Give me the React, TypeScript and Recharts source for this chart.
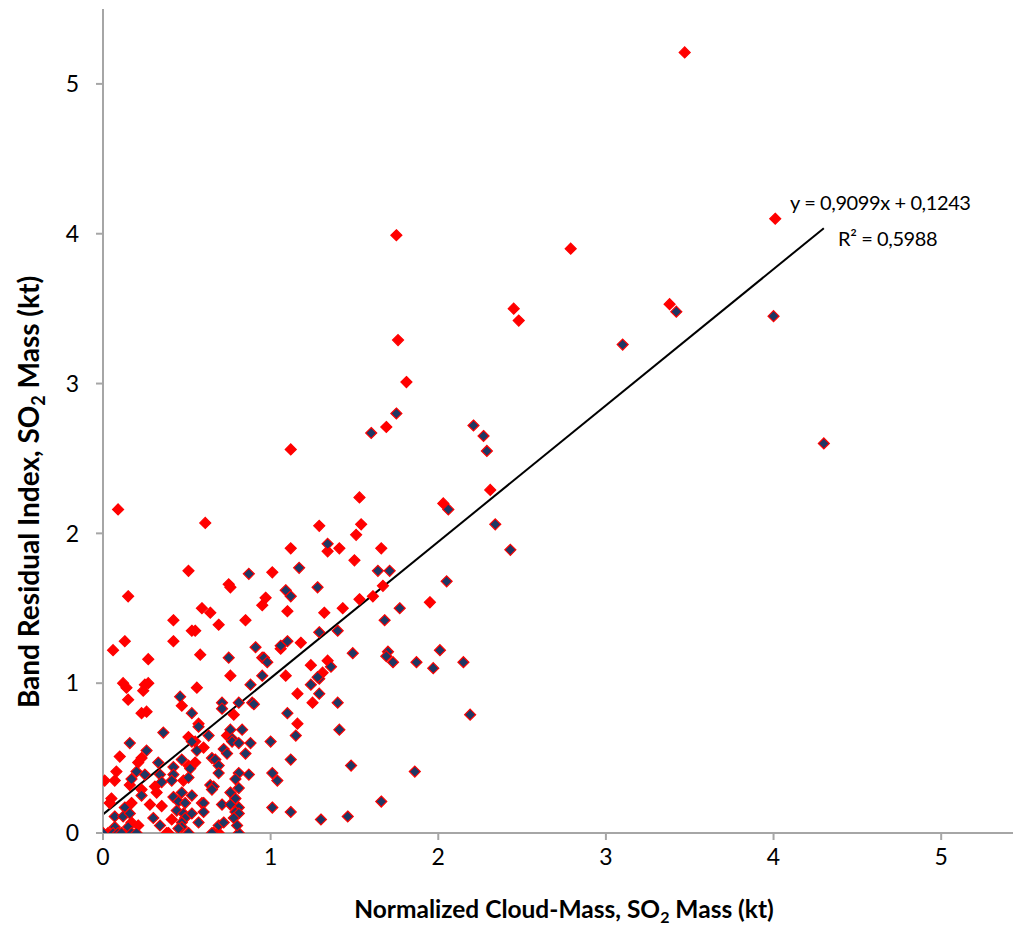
import React from "react";
import { ScatterChart, Scatter, XAxis, YAxis, ReferenceLine } from "recharts";

// [x, y] pairs (kt)
const bandResidualOnly: [number, number][] = [
  [3.47, 5.21], [4.01, 4.1], [2.79, 3.9], [3.38, 3.53], [1.75, 3.99], [2.45, 3.5],
  [2.48, 3.42], [1.76, 3.29], [1.81, 3.01], [1.69, 2.71], [1.12, 2.56], [2.31, 2.29],
  [1.53, 2.24], [2.03, 2.2], [1.29, 2.05], [1.54, 2.06], [1.51, 1.99], [1.34, 1.88],
  [1.41, 1.9], [1.66, 1.9], [1.5, 1.82], [1.67, 1.65], [1.61, 1.58], [1.53, 1.56],
  [1.95, 1.54], [1.43, 1.5], [1.32, 1.47], [1.18, 1.27], [1.24, 1.12], [1.34, 1.15],
  [1.31, 1.07], [1.25, 0.87], [1.16, 0.93], [1.16, 0.73], [0.61, 2.07], [1.12, 1.9],
  [1.01, 1.74], [0.75, 1.66], [0.76, 1.64], [0.97, 1.57], [0.95, 1.52], [1.1, 1.48],
  [0.59, 1.5], [0.64, 1.47], [0.69, 1.39], [0.85, 1.42], [0.55, 1.35], [1.06, 1.23],
  [0.58, 1.19], [0.76, 1.05], [1.09, 1.05], [0.56, 0.97], [0.09, 2.16], [0.51, 1.75],
  [0.15, 1.58], [0.42, 1.42], [0.53, 1.35], [0.13, 1.28], [0.06, 1.22], [0.42, 1.28],
  [0.27, 1.16], [0.12, 1.0], [0.14, 0.97], [0.25, 0.99], [0.27, 1.0], [0.24, 0.95],
  [0.15, 0.89], [0.23, 0.8], [0.26, 0.81], [0.47, 0.85], [0.57, 0.73], [0.1, 0.51],
  [0.21, 0.47], [0.23, 0.5], [0.51, 0.45], [0.55, 0.47], [0.08, 0.41], [0.01, 0.35],
  [0.07, 0.35], [0.16, 0.32], [0.31, 0.31], [0.48, 0.35], [0.23, 0.29], [0.32, 0.27],
  [0.05, 0.23], [0.04, 0.2], [0.17, 0.2], [0.28, 0.19], [0.35, 0.18], [0.41, 0.09],
  [0.17, 0.07], [0.38, 0.0], [0.78, 0.79], [0.74, 0.65], [0.55, 0.61], [0.6, 0.57],
  [0.69, 0.0], [0.51, 0.64], [0.21, 0.05], [0.39, 0.0], [0.03, 0.0], [0.14, 0.0],
];

const bothMethods: [number, number][] = [
  [3.42, 3.48], [3.1, 3.26], [4.0, 3.45], [4.3, 2.6], [1.75, 2.8], [1.6, 2.67],
  [2.21, 2.72], [2.27, 2.65], [2.29, 2.55], [2.06, 2.16], [1.34, 1.93], [2.34, 2.06],
  [2.43, 1.89], [1.64, 1.75], [1.71, 1.75], [1.28, 1.64], [2.05, 1.68], [1.77, 1.5],
  [1.68, 1.42], [1.29, 1.34], [1.4, 1.35], [1.49, 1.2], [1.7, 1.21], [1.69, 1.18],
  [1.73, 1.14], [1.87, 1.14], [2.01, 1.22], [1.97, 1.1], [2.15, 1.14], [1.36, 1.11],
  [1.29, 1.03], [1.28, 1.04], [1.24, 0.99], [1.29, 0.93], [1.4, 0.87], [1.41, 0.69],
  [1.48, 0.45], [1.86, 0.41], [1.66, 0.21], [1.3, 0.09], [1.46, 0.11], [2.19, 0.79],
  [1.17, 1.77], [1.15, 0.65], [0.87, 1.73], [1.09, 1.62], [1.12, 1.58], [0.91, 1.24],
  [0.95, 1.17], [0.96, 1.17], [0.98, 1.14], [1.06, 1.25], [1.1, 1.28], [0.75, 1.17],
  [0.95, 1.05], [0.88, 0.99], [0.46, 0.91], [0.53, 0.8], [0.36, 0.67], [0.16, 0.6],
  [0.26, 0.55], [0.33, 0.47], [0.47, 0.49], [0.42, 0.44], [0.42, 0.39], [0.2, 0.41],
  [0.25, 0.39], [0.17, 0.36], [0.34, 0.39], [0.35, 0.34], [0.41, 0.35], [0.52, 0.43],
  [0.51, 0.37], [0.23, 0.25], [0.42, 0.24], [0.47, 0.27], [0.53, 0.25], [0.45, 0.21],
  [0.49, 0.2], [0.59, 0.2], [0.07, 0.11], [0.13, 0.17], [0.12, 0.11], [0.16, 0.13],
  [0.3, 0.1], [0.44, 0.15], [0.48, 0.13], [0.49, 0.1], [0.47, 0.07], [0.47, 0.04],
  [0.34, 0.05], [0.07, 0.04], [0.15, 0.04], [0.53, 0.13], [0.51, 0.0], [0.45, 0.03],
  [0.0, 0.0], [0.06, 0.0], [0.09, 0.0], [0.11, 0.0], [0.17, 0.0], [0.2, 0.0],
  [0.66, 0.0], [0.81, 0.0], [0.65, 0.0], [0.71, 0.87], [0.71, 0.83], [0.81, 0.87],
  [0.89, 0.87], [0.9, 0.86], [0.57, 0.71], [1.1, 0.8], [0.76, 0.69], [0.83, 0.69],
  [0.77, 0.63], [0.77, 0.61], [0.81, 0.6], [0.88, 0.6], [0.63, 0.65], [0.56, 0.55],
  [1.0, 0.61], [0.72, 0.56], [0.74, 0.53], [0.85, 0.53], [1.12, 0.49], [0.65, 0.5],
  [0.67, 0.49], [0.69, 0.45], [0.69, 0.4], [0.81, 0.4], [0.79, 0.36], [0.87, 0.39],
  [1.01, 0.4], [1.04, 0.35], [0.64, 0.32], [0.66, 0.31], [0.65, 0.29], [0.81, 0.3],
  [0.76, 0.27], [0.79, 0.23], [0.6, 0.2], [0.6, 0.14], [0.71, 0.19], [0.76, 0.19],
  [0.81, 0.17], [0.79, 0.14], [0.81, 0.13], [1.01, 0.17], [1.12, 0.14], [0.78, 0.1],
  [0.57, 0.07], [0.69, 0.05], [0.72, 0.07], [0.8, 0.05], [0.53, 0.61],
];

const axisTicks = [0, 1, 2, 3, 4, 5];
const SLOPE = 0.9099;
const INTERCEPT = 0.1243;
const trendX = [0, 4.3];

const toPoints = (pairs: [number, number][]) => pairs.map(([x, y]) => ({ x, y }));

const diamond = (fill: string) => (props: any) => {
  const { cx, cy } = props;
  const r = 5.5;
  return (
    <polygon
      points={`${cx},${cy - r} ${cx + r},${cy} ${cx},${cy + r} ${cx - r},${cy}`}
      fill={fill}
      stroke="#ff0000"
      strokeWidth={1.2}
    />
  );
};

const tickStyle = { fill: "#000", fontSize: 23, fontFamily: "Lato" };

export default function App() {
  return (
    <div style={{ position: "relative", width: 1013, height: 918, overflow: "hidden", fontFamily: "Lato" }}>
      <ScatterChart width={1022} height={918} margin={{ top: 1, right: 5, left: 0, bottom: 0 }}>
        <XAxis
          type="number"
          dataKey="x"
          domain={[0, 5.5]}
          ticks={axisTicks}
          allowDataOverflow
          stroke="#a6a6a6"
          strokeWidth={2}
          tickSize={7}
          tickMargin={9}
          tick={tickStyle}
          height={93}
        />
        <YAxis
          type="number"
          dataKey="y"
          domain={[0, 5.5]}
          ticks={axisTicks}
          allowDataOverflow
          stroke="#a6a6a6"
          strokeWidth={2}
          tickSize={7}
          tickMargin={17}
          tick={tickStyle}
          width={95}
        />
        <Scatter data={toPoints(bandResidualOnly)} shape={diamond("#ff0000")} isAnimationActive={false} />
        <Scatter data={toPoints(bothMethods)} shape={diamond("#1f3864")} isAnimationActive={false} />
        <ReferenceLine
          segment={trendX.map((x) => ({ x, y: SLOPE * x + INTERCEPT }))}
          stroke="#000"
          strokeWidth={2}
          ifOverflow="visible"
        />
      </ScatterChart>
      <div style={{ position: "absolute", left: 782, top: 182, fontSize: 20, letterSpacing: -0.4, whiteSpace: "nowrap" }}>
        y = 0,9099x + 0,1243
      </div>
      <div style={{ position: "absolute", left: 830, top: 218, fontSize: 20, letterSpacing: -0.4, whiteSpace: "nowrap" }}>
        R² = 0,5988
      </div>
      <div
        style={{
          position: "absolute",
          left: 556,
          top: 902,
          transform: "translate(-50%, -50%)",
          fontSize: 24.5,
          fontWeight: 700,
          whiteSpace: "nowrap",
        }}
      >
        Normalized Cloud-Mass, SO<sub style={{ fontSize: 16 }}>2</sub> Mass (kt)
      </div>
      <div
        style={{
          position: "absolute",
          left: 22,
          top: 484,
          transform: "translate(-50%, -50%) rotate(-90deg)",
          fontSize: 28,
          fontWeight: 700,
          whiteSpace: "nowrap",
        }}
      >
        Band Residual Index, SO<sub style={{ fontSize: 18 }}>2</sub> Mass (kt)
      </div>
    </div>
  );
}
